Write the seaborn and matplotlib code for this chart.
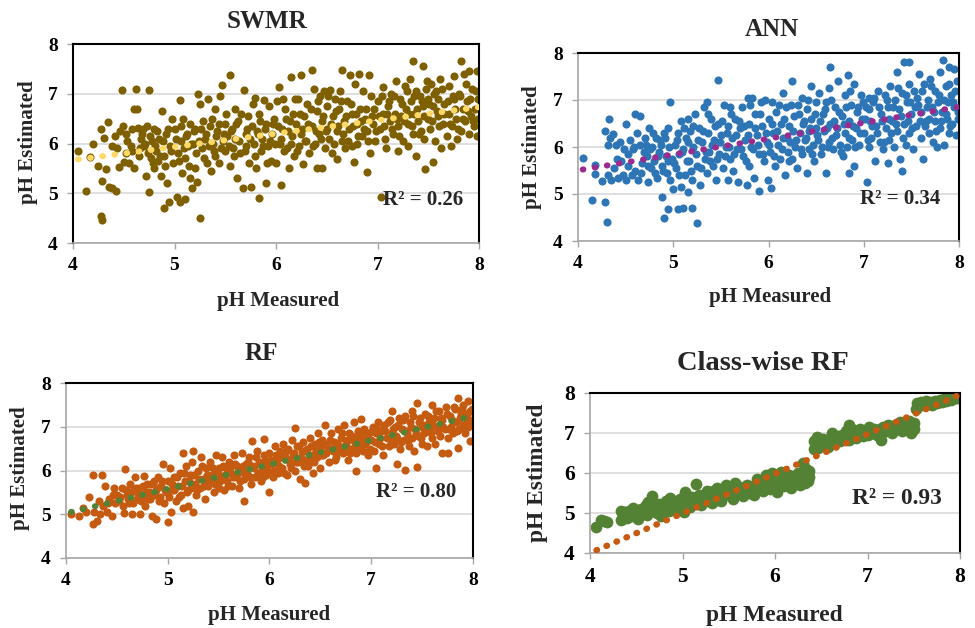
import matplotlib
matplotlib.use("Agg")
import matplotlib.pyplot as plt
import seaborn as sns
import pandas as pd
import numpy as np

# ---------------- data ----------------
titles = ["SWMR", "ANN", "RF", "Class-wise RF"]
r2_labels = ["R² = 0.26", "R² = 0.34", "R² = 0.80", "R² = 0.93"]
ticks = [4, 5, 6, 7, 8]

swmr_points = [
    (4.05,5.85),(4.13,5.05),(4.17,5.72),(4.2,5.98),(4.25,5.55),(4.28,4.55),(4.29,4.47),(4.28,6.3),(4.29,5.25),
    (4.31,6.12),(4.33,5.48),(4.34,6.43),(4.35,5.12),(4.38,5.1),(4.38,5.95),(4.42,5.05),(4.43,5.9),(4.45,5.52),
    (4.46,6.25),(4.48,7.07),(4.49,6.35),(4.5,5.62),(4.52,5.8),(4.53,6.05),
    (4.55,5.6),(4.57,5.95),(4.58,6.3),(4.6,6.7),(4.6,5.5),(4.62,7.1),(4.63,6.7),(4.64,6.32),(4.65,5.75),(4.67,6.1),
    (4.68,6.2),(4.7,5.95),(4.72,5.35),(4.73,6.35),(4.75,7.07),(4.75,5.03),(4.77,5.7),(4.78,6.05),(4.8,6.3),(4.8,5.5),
    (4.82,5.85),(4.84,5.65),(4.85,6.1),(4.87,5.35),(4.88,6.65),(4.9,4.7),(4.9,5.75),(4.92,6.2),(4.93,5.2),(4.95,4.82),
    (4.96,5.95),(4.98,6.5),(4.99,5.6),
    (5.0,6.3),(5.02,4.92),(5.03,5.8),(5.05,4.82),(5.05,6.88),(5.06,6.05),(5.07,5.4),(5.08,6.5),(5.1,4.88),(5.1,5.7),
    (5.12,6.2),(5.13,5.95),(5.15,5.3),(5.15,6.4),(5.17,5.1),(5.18,6.0),(5.2,5.5),(5.2,6.3),(5.22,5.22),(5.23,7.0),
    (5.25,4.5),(5.25,6.8),(5.27,5.9),(5.28,6.45),(5.3,6.1),(5.32,5.6),(5.33,6.9),(5.35,6.35),(5.36,5.45),(5.38,6.0),
    (5.4,6.7),(5.4,5.75),(5.42,6.25),(5.44,5.6),(5.45,6.95),(5.47,7.18),(5.48,6.05),(5.5,6.4),(5.5,5.85),
    (5.52,6.15),(5.55,7.37),(5.55,5.55),(5.57,6.3),(5.58,5.9),(5.6,6.7),(5.6,6.1),(5.62,5.3),(5.63,6.45),(5.65,5.8),
    (5.67,5.1),(5.68,7.07),(5.7,6.2),(5.7,5.95),(5.72,6.55),(5.73,5.6),(5.75,5.12),(5.76,6.35),(5.78,6.0),(5.79,6.92),
    (5.8,5.5),(5.81,6.25),(5.83,4.9),(5.83,6.6),(5.85,5.85),(5.86,6.1),(5.88,6.88),(5.9,5.2),(5.9,6.4),(5.92,5.95),
    (5.93,6.75),(5.95,5.65),(5.96,6.2),(5.98,6.5),(5.99,6.0),
    (6.0,5.6),(6.02,6.35),(6.03,7.13),(6.05,5.17),(6.05,6.1),(6.07,6.9),(6.08,5.85),(6.1,6.5),(6.12,6.25),(6.13,5.5),
    (6.15,6.0),(6.15,7.33),(6.17,6.6),(6.18,5.75),(6.2,6.4),(6.22,6.9),(6.23,5.95),(6.25,7.38),(6.25,6.2),(6.27,5.58),
    (6.28,6.55),(6.3,6.05),(6.31,6.8),(6.33,5.8),(6.35,7.47),(6.35,6.35),(6.37,7.1),(6.38,6.0),(6.4,5.5),(6.4,6.65),
    (6.42,6.2),(6.43,6.95),(6.45,5.5),(6.45,6.45),(6.47,7.05),(6.48,5.9),(6.5,6.3),(6.5,6.75),
    (6.52,6.1),(6.53,7.08),(6.55,5.8),(6.56,6.55),(6.58,6.9),(6.6,6.25),(6.6,5.68),(6.62,6.7),(6.63,7.05),(6.65,7.47),
    (6.65,6.05),(6.67,6.45),(6.68,5.9),(6.7,6.85),(6.72,6.3),(6.73,7.38),(6.75,6.6),(6.75,5.95),(6.77,5.62),(6.78,7.2),
    (6.8,6.4),(6.8,6.0),(6.82,7.4),(6.83,6.7),(6.85,6.15),(6.86,7.05),(6.88,6.5),(6.9,5.43),(6.9,6.25),(6.92,7.38),
    (6.93,5.8),(6.95,6.55),(6.97,6.7),(6.98,6.05),
    (7.0,6.85),(7.02,6.3),(7.03,4.93),(7.05,7.13),(7.05,6.6),(7.07,6.1),(7.08,5.9),(7.1,6.75),(7.12,6.45),(7.13,7.0),
    (7.15,6.2),(7.17,6.6),(7.18,7.25),(7.2,6.35),(7.2,5.85),(7.22,6.9),(7.23,6.55),(7.25,6.05),(7.27,7.15),(7.28,6.7),
    (7.3,6.4),(7.3,5.95),(7.32,7.3),(7.33,6.85),(7.35,7.65),(7.35,6.2),(7.36,6.6),(7.38,7.05),(7.38,5.75),(7.4,6.45),
    (7.42,6.95),(7.43,6.25),(7.45,7.55),(7.45,6.75),(7.46,6.1),(7.47,5.48),(7.48,7.1),(7.5,6.5),(7.5,6.9),
    (7.52,6.3),(7.53,7.2),(7.55,5.62),(7.55,6.75),(7.57,6.05),(7.58,7.05),(7.6,6.55),(7.6,6.9),(7.62,7.3),(7.63,5.9),
    (7.65,6.4),(7.66,6.8),(7.68,6.15),(7.7,7.15),(7.7,6.6),(7.72,5.95),(7.73,6.35),(7.75,7.35),(7.75,6.9),(7.77,6.5),
    (7.78,6.1),(7.8,7.0),(7.82,7.65),(7.82,6.25),(7.84,6.7),(7.85,7.4),(7.86,6.45),(7.88,6.85),(7.9,7.45),(7.9,6.2),
    (7.92,6.55),(7.93,7.1),(7.95,6.35),(7.96,6.7),(7.98,7.45),(7.98,6.15),(7.99,6.9),
]
swmr_core = [
    (4.41,6.15),(4.52,6.2),(4.58,5.85),(4.66,5.9),(4.69,6.3),
    (4.71,6.0),(4.74,5.8),(4.76,6.15),(4.79,5.6),(4.81,5.95),(4.83,6.25),(4.86,5.75),(4.89,6.05),(4.91,5.55),(4.94,6.3),(4.97,5.85),
    (5.01,6.1),(5.04,5.65),(5.06,6.35),(5.09,5.9),(5.11,6.15),(5.14,5.55),(5.16,6.0),(5.19,6.25),(5.21,5.8),(5.24,6.05),
    (5.26,6.3),(5.29,5.7),(5.31,6.2),(5.34,5.95),(5.37,6.5),(5.39,5.85),(5.41,6.15),(5.44,6.4),(5.46,5.9),(5.49,6.2),
    (5.51,6.6),(5.54,5.95),(5.56,6.25),(5.59,5.75),(5.61,6.4),(5.64,6.05),(5.66,6.6),(5.69,5.85),(5.71,6.3),(5.74,6.1),
    (5.77,6.8),(5.79,5.75),(5.82,6.2),(5.84,6.45),(5.87,5.95),(5.89,6.3),(5.91,5.6),(5.94,6.05),(5.97,6.4),
    (6.01,6.85),(6.04,6.0),(6.06,6.3),(6.09,6.7),(6.11,5.9),(6.14,6.45),(6.16,6.15),(6.19,6.9),(6.21,5.85),(6.24,6.6),
    (6.26,6.3),(6.29,6.05),(6.32,6.4),(6.34,6.7),(6.36,5.95),(6.39,6.25),(6.41,6.85),(6.44,6.1),(6.46,6.55),(6.49,6.25),
    (6.51,6.95),(6.54,6.4),(6.57,6.0),(6.59,6.65),(6.61,6.35),(6.64,6.85),(6.66,6.2),(6.69,6.55),(6.71,6.05),(6.74,6.8),
    (6.76,6.35),(6.79,6.6),(6.81,6.15),(6.84,6.45),(6.87,6.3),(6.89,6.7),(6.91,6.05),(6.94,6.95),(6.96,6.4),(6.99,6.25),
    (7.01,6.55),(7.04,6.95),(7.06,6.35),(7.09,6.6),(7.11,6.85),(7.14,6.3),(7.16,6.95),(7.19,6.5),(7.21,6.15),(7.24,6.8),
    (7.26,6.45),(7.29,7.05),(7.31,6.6),(7.34,6.35),(7.36,6.95),(7.39,6.7),(7.41,6.2),(7.44,6.85),(7.46,6.55),(7.49,7.25),
    (7.51,6.8),(7.54,6.45),(7.56,7.0),(7.59,6.65),(7.61,6.35),(7.64,7.1),(7.66,6.6),(7.69,6.85),(7.71,6.4),(7.74,6.95),
    (7.76,6.7),(7.79,6.3),(7.81,6.95),(7.84,6.5),(7.87,7.2),(7.89,6.65),(7.91,6.9),(7.94,6.45),(7.97,7.05),(7.99,6.5),
]

ann_points = [
    (4.05,5.77),(4.15,4.87),(4.18,5.62),(4.18,5.42),(4.25,5.27),(4.28,6.35),(4.28,4.82),(4.3,4.4),(4.31,5.4),
    (4.32,6.05),(4.33,6.6),(4.34,6.2),(4.35,5.3),(4.37,6.28),(4.38,5.55),(4.4,6.05),(4.42,5.35),(4.44,6.1),(4.45,5.7),
    (4.47,5.4),(4.48,5.95),(4.5,6.5),(4.5,5.3),
    (4.52,5.85),(4.55,6.15),(4.57,5.4),(4.58,5.95),(4.6,6.7),(4.6,5.5),(4.62,6.3),(4.63,5.3),(4.65,6.65),(4.65,6.05),
    (4.67,5.65),(4.7,6.2),(4.72,5.8),(4.73,5.25),(4.75,6.4),(4.77,5.55),(4.78,6.0),(4.8,5.7),(4.82,6.2),(4.83,5.35),
    (4.85,5.9),(4.86,6.15),(4.88,4.93),(4.88,5.6),(4.9,4.48),(4.9,6.3),(4.92,5.8),(4.93,5.45),(4.95,4.68),(4.95,6.4),
    (4.97,6.95),(4.97,5.3),(4.99,5.75),
    (5.0,5.1),(5.02,6.05),(5.03,5.55),(5.05,4.68),(5.05,6.3),(5.06,5.85),(5.08,5.15),(5.08,6.55),(5.1,4.7),(5.1,5.95),
    (5.12,5.4),(5.13,6.2),(5.15,6.6),(5.15,5.05),(5.17,5.7),(5.18,6.35),(5.2,4.7),(5.2,5.3),(5.21,6.0),(5.23,6.7),
    (5.25,4.38),(5.25,5.6),(5.27,6.4),(5.28,5.2),(5.3,6.1),(5.32,6.85),(5.33,5.75),(5.35,6.95),(5.35,5.45),(5.37,6.3),
    (5.38,5.9),(5.4,6.6),(5.42,5.6),(5.43,6.15),(5.45,5.3),(5.47,7.42),(5.47,6.5),(5.48,5.85),(5.5,6.25),
    (5.52,5.55),(5.53,6.9),(5.55,6.0),(5.57,5.3),(5.58,6.45),(5.6,6.85),(5.6,5.75),(5.62,6.2),(5.63,5.5),(5.65,6.6),
    (5.67,5.95),(5.68,5.25),(5.7,6.4),(5.72,6.85),(5.73,5.8),(5.75,6.15),(5.77,5.2),(5.78,7.05),(5.8,6.5),(5.8,5.6),
    (5.82,6.0),(5.83,7.05),(5.85,5.35),(5.86,6.7),(5.88,6.25),(5.9,5.07),(5.9,5.85),(5.92,6.95),(5.93,6.45),(5.95,5.7),
    (5.96,7.0),(5.98,6.1),(5.99,5.3),
    (6.0,6.6),(6.02,5.9),(6.03,5.13),(6.04,6.95),(6.05,6.3),(6.07,5.6),(6.08,6.75),(6.1,6.05),(6.12,5.75),(6.13,6.5),
    (6.15,7.15),(6.15,6.2),(6.17,5.4),(6.18,6.85),(6.2,5.9),(6.22,6.45),(6.23,6.1),(6.25,7.4),(6.25,5.75),(6.27,6.65),
    (6.28,6.0),(6.3,5.55),(6.31,6.9),(6.33,6.3),(6.35,7.05),(6.35,5.85),(6.37,6.55),(6.38,6.15),(6.4,5.45),(6.4,6.8),
    (6.42,6.35),(6.43,5.95),(6.45,7.3),(6.45,6.6),(6.47,6.05),(6.48,5.7),(6.5,6.95),(6.5,6.4),
    (6.52,6.15),(6.53,7.15),(6.55,5.85),(6.57,6.7),(6.58,6.35),(6.6,5.45),(6.6,6.95),(6.62,6.0),(6.63,7.25),(6.65,7.7),
    (6.65,6.5),(6.67,6.2),(6.68,5.95),(6.7,6.85),(6.72,6.4),(6.73,7.4),(6.75,6.05),(6.77,6.65),(6.78,5.8),(6.8,7.1),
    (6.8,6.3),(6.82,6.0),(6.83,7.53),(6.85,5.45),(6.85,6.55),(6.87,6.9),(6.88,6.15),(6.9,7.35),(6.9,5.6),(6.92,6.4),
    (6.93,6.75),(6.95,6.05),(6.97,7.1),(6.98,6.6),
    (7.0,6.3),(7.02,6.85),(7.03,5.25),(7.05,6.0),(7.05,7.05),(7.07,6.55),(7.08,6.2),(7.1,6.95),(7.12,5.7),(7.13,6.45),
    (7.15,7.2),(7.17,6.1),(7.18,6.7),(7.2,5.95),(7.22,7.1),(7.23,6.4),(7.25,6.85),(7.25,5.65),(7.27,6.15),(7.28,7.3),
    (7.3,6.55),(7.32,6.0),(7.33,7.0),(7.35,7.6),(7.35,6.35),(7.37,6.8),(7.38,5.75),(7.4,5.5),(7.4,7.15),(7.42,7.8),
    (7.42,6.5),(7.44,6.05),(7.45,6.95),(7.47,7.8),(7.47,6.3),(7.48,7.35),(7.5,6.7),
    (7.52,5.95),(7.53,7.2),(7.55,6.45),(7.57,6.9),(7.58,7.55),(7.6,6.2),(7.6,6.75),(7.62,5.75),(7.63,7.35),(7.65,6.55),
    (7.67,7.0),(7.68,6.3),(7.7,7.45),(7.72,6.85),(7.73,6.1),(7.75,7.2),(7.75,6.55),(7.77,6.0),(7.78,6.95),(7.8,7.6),
    (7.8,6.4),(7.82,6.75),(7.83,7.85),(7.84,6.05),(7.86,7.3),(7.87,6.6),(7.88,6.95),(7.9,7.7),(7.9,6.3),(7.92,7.1),
    (7.93,6.5),(7.95,7.65),(7.95,6.85),(7.97,6.25),(7.98,7.4),(7.99,6.6),
]
ann_core = [
    (4.41,5.75),(4.53,5.6),(4.59,6.0),(4.66,5.45),(4.69,5.9),
    (4.71,6.05),(4.74,5.6),(4.76,5.95),(4.79,6.3),(4.81,5.45),(4.84,5.8),(4.87,6.05),(4.89,5.5),(4.91,6.2),(4.94,5.7),(4.96,6.0),
    (5.01,5.65),(5.04,6.15),(5.06,5.4),(5.09,5.9),(5.11,6.4),(5.14,5.7),(5.16,6.1),(5.19,5.5),(5.21,6.45),(5.24,5.85),
    (5.26,6.15),(5.29,5.55),(5.31,6.35),(5.34,5.9),(5.36,6.7),(5.39,5.7),(5.41,6.05),(5.44,6.45),(5.46,5.75),(5.49,6.1),
    (5.51,6.55),(5.54,5.8),(5.56,6.3),(5.59,6.0),(5.61,6.7),(5.64,5.85),(5.66,6.25),(5.69,6.55),(5.71,5.95),(5.74,6.45),
    (5.76,5.7),(5.79,6.25),(5.81,6.9),(5.84,5.95),(5.86,6.4),(5.89,6.05),(5.91,6.7),(5.94,5.85),(5.97,6.3),
    (6.01,6.05),(6.04,6.5),(6.06,5.8),(6.09,6.35),(6.11,6.9),(6.14,5.95),(6.16,6.6),(6.19,6.2),(6.21,5.7),(6.24,6.9),
    (6.26,6.35),(6.29,6.15),(6.32,6.7),(6.34,5.95),(6.36,6.5),(6.39,6.2),(6.41,7.0),(6.44,6.4),(6.46,5.85),(6.49,6.7),
    (6.51,6.25),(6.54,6.55),(6.56,6.0),(6.59,6.8),(6.61,6.4),(6.64,6.1),(6.66,7.0),(6.69,6.55),(6.71,6.25),(6.74,6.75),
    (6.76,5.9),(6.79,6.5),(6.81,6.85),(6.84,6.2),(6.86,7.2),(6.89,6.45),(6.91,6.0),(6.94,6.85),(6.96,6.3),(6.99,6.95),
    (7.01,6.6),(7.04,6.15),(7.06,6.8),(7.09,6.45),(7.11,7.05),(7.14,6.3),(7.16,6.85),(7.19,6.55),(7.21,6.1),(7.24,7.0),
    (7.26,6.6),(7.29,6.3),(7.31,6.85),(7.34,6.5),(7.36,7.25),(7.39,6.65),(7.41,6.2),(7.44,7.1),(7.46,6.55),(7.49,6.95),
    (7.51,6.4),(7.54,6.85),(7.56,7.05),(7.59,6.55),(7.61,7.2),(7.64,6.45),(7.66,6.85),(7.69,6.6),(7.71,7.3),(7.74,6.75),
    (7.76,6.35),(7.79,7.1),(7.81,6.55),(7.84,7.0),(7.86,6.7),(7.89,7.35),(7.91,6.45),(7.94,6.95),(7.96,7.2),(7.99,6.75),
]

rf_points = [
    (4.05,5.0),(4.13,4.95),(4.17,5.15),(4.2,5.05),(4.23,5.4),(4.27,5.9),(4.27,4.78),(4.28,5.05),(4.3,4.85),(4.32,5.3),
    (4.33,5.0),(4.35,5.9),(4.36,5.2),(4.38,5.65),(4.4,5.05),(4.42,5.35),(4.45,4.95),(4.47,5.6),(4.48,5.25),(4.5,5.45),
    (4.52,5.3),(4.55,5.6),(4.57,5.02),(4.58,6.03),(4.6,5.45),(4.62,5.25),(4.63,5.7),(4.65,5.0),(4.67,5.55),(4.68,5.85),
    (4.7,5.35),(4.72,5.6),(4.73,5.0),(4.75,5.45),(4.77,5.88),(4.78,5.2),(4.8,5.7),(4.82,5.5),(4.83,5.35),(4.85,4.97),
    (4.86,5.75),(4.88,4.9),(4.88,5.55),(4.9,5.85),(4.92,5.4),(4.93,5.65),(4.95,6.15),(4.96,5.25),(4.98,5.5),(5.0,4.82),
    (5.0,5.75),(5.02,6.05),(5.03,5.05),(5.04,5.55),(5.06,5.85),(5.08,5.3),(5.1,5.65),(5.12,5.95),(5.13,5.45),(5.15,6.4),
    (5.15,5.15),(5.17,5.75),(5.18,6.1),(5.2,5.2),(5.2,5.55),(5.22,5.9),(5.24,6.2),(5.25,6.45),(5.25,5.05),(5.27,5.7),
    (5.28,5.45),(5.3,6.0),(5.32,5.6),(5.33,6.3),(5.35,5.8),(5.37,5.35),(5.38,6.05),(5.4,5.65),(5.42,6.2),(5.43,5.9),
    (5.45,5.5),(5.47,6.35),(5.48,5.75),(5.5,6.05),(5.5,5.6),
    (5.52,5.85),(5.53,6.3),(5.55,5.55),(5.57,6.05),(5.58,5.75),(5.6,6.2),(5.62,5.95),(5.63,5.65),(5.65,6.35),(5.67,5.85),
    (5.68,6.1),(5.7,5.6),(5.72,6.0),(5.73,6.4),(5.75,5.3),(5.75,5.8),(5.77,6.15),(5.78,5.95),(5.8,6.3),(5.82,5.7),
    (5.83,6.68),(5.85,6.05),(5.86,5.85),(5.88,6.45),(5.9,6.2),(5.92,5.75),(5.93,6.0),(5.95,6.72),(5.95,6.35),(5.97,5.9),
    (5.98,6.1),(6.0,5.5),
    (6.0,6.4),(6.02,6.15),(6.03,5.85),(6.05,6.55),(6.07,6.25),(6.08,5.95),(6.1,6.45),(6.12,6.05),(6.13,6.6),(6.15,6.3),
    (6.17,5.9),(6.18,6.5),(6.2,6.15),(6.22,6.7),(6.23,6.35),(6.25,6.97),(6.25,6.0),(6.27,6.55),(6.28,6.2),(6.3,5.8),
    (6.32,6.45),(6.33,6.65),(6.35,5.72),(6.35,6.25),(6.37,6.5),(6.38,6.1),(6.4,6.75),(6.42,6.35),(6.43,5.95),(6.45,6.6),
    (6.47,6.3),(6.48,6.85),(6.5,6.5),(6.5,6.05),
    (6.52,6.7),(6.53,6.35),(6.55,7.05),(6.57,6.55),(6.58,6.2),(6.6,6.85),(6.62,6.45),(6.63,6.65),(6.65,6.3),(6.67,6.95),
    (6.68,6.55),(6.7,6.75),(6.72,6.4),(6.73,7.05),(6.75,6.6),(6.77,6.25),(6.78,6.85),(6.8,6.5),(6.82,6.7),(6.83,7.12),
    (6.85,6.0),(6.85,6.4),(6.87,6.9),(6.88,6.6),(6.9,7.18),(6.9,6.75),(6.92,6.45),(6.93,6.95),(6.95,6.65),(6.97,6.35),
    (6.98,6.85),
    (7.0,6.7),(7.02,7.0),(7.03,6.45),(7.05,6.05),(7.05,6.85),(7.07,7.1),(7.08,6.6),(7.1,6.9),(7.12,6.35),(7.13,7.05),
    (7.15,6.75),(7.17,6.55),(7.18,7.15),(7.2,7.35),(7.2,6.85),(7.22,6.6),(7.23,7.0),(7.25,6.15),(7.25,6.75),(7.27,7.2),
    (7.28,6.5),(7.3,6.95),(7.32,6.7),(7.33,6.02),(7.33,7.25),(7.35,6.85),(7.37,6.55),(7.38,7.1),(7.4,6.75),(7.4,7.35),
    (7.42,6.45),(7.43,6.95),(7.45,6.07),(7.45,7.55),(7.46,6.8),(7.48,7.2),(7.5,6.6),(7.5,7.0),
    (7.52,6.85),(7.53,7.3),(7.55,6.55),(7.57,7.1),(7.58,6.95),(7.6,7.5),(7.6,6.75),(7.62,7.2),(7.63,6.6),(7.65,7.0),
    (7.67,7.35),(7.68,6.8),(7.7,6.4),(7.7,7.15),(7.72,6.95),(7.73,7.45),(7.75,6.4),(7.75,6.75),(7.77,7.25),(7.78,7.0),
    (7.8,6.85),(7.82,7.4),(7.83,7.1),(7.85,6.52),(7.85,7.65),(7.86,6.95),(7.88,7.3),(7.9,7.05),(7.9,7.5),(7.92,6.85),
    (7.93,7.2),(7.95,7.6),(7.95,7.0),(7.97,6.67),(7.97,7.35),(7.99,7.15),
]
rf_core = [
    (4.41,5.25),(4.46,5.45),(4.53,5.4),(4.56,5.2),(4.59,5.55),(4.61,5.35),(4.64,5.5),(4.66,5.25),(4.69,5.6),(4.71,5.45),
    (4.74,5.3),(4.76,5.65),(4.79,5.5),(4.81,5.35),(4.84,5.7),(4.87,5.45),(4.89,5.6),(4.91,5.3),(4.94,5.75),(4.97,5.55),
    (5.01,5.4),(5.04,5.7),(5.06,5.55),(5.09,5.85),(5.11,5.4),(5.14,5.65),(5.16,5.95),(5.19,5.5),(5.21,5.75),(5.23,5.6),
    (5.26,5.9),(5.29,5.55),(5.31,5.8),(5.34,6.1),(5.36,5.65),(5.39,5.9),(5.41,5.75),(5.44,6.05),(5.46,5.7),(5.49,5.95),
    (5.51,5.75),(5.54,6.1),(5.56,5.9),(5.59,5.65),(5.61,6.05),(5.64,5.85),(5.66,6.15),(5.69,5.95),(5.71,5.75),(5.74,6.1),
    (5.76,5.95),(5.79,6.2),(5.81,5.85),(5.84,6.1),(5.87,6.3),(5.89,5.95),(5.91,6.15),(5.94,5.85),(5.96,6.25),(5.99,6.0),
    (6.01,6.25),(6.04,6.0),(6.06,6.35),(6.09,6.1),(6.11,6.3),(6.14,5.95),(6.16,6.45),(6.19,6.25),(6.21,6.05),(6.24,6.4),
    (6.26,6.2),(6.29,6.55),(6.31,6.3),(6.34,6.1),(6.36,6.45),(6.39,6.25),(6.41,6.55),(6.44,6.2),(6.46,6.45),(6.49,6.65),
    (6.51,6.35),(6.54,6.6),(6.56,6.4),(6.59,6.7),(6.61,6.5),(6.64,6.25),(6.66,6.6),(6.69,6.45),(6.71,6.85),(6.74,6.5),
    (6.76,6.7),(6.79,6.4),(6.81,6.8),(6.84,6.55),(6.86,6.75),(6.89,6.5),(6.91,6.9),(6.94,6.6),(6.96,6.8),(6.99,6.5),
    (7.01,6.9),(7.04,6.65),(7.06,6.95),(7.09,6.75),(7.11,6.55),(7.14,6.9),(7.16,7.1),(7.19,6.7),(7.21,6.95),(7.24,6.8),
    (7.26,7.05),(7.29,6.65),(7.31,7.15),(7.34,6.9),(7.36,6.7),(7.39,7.0),(7.41,7.25),(7.44,6.85),(7.47,7.1),(7.49,6.75),
    (7.51,7.05),(7.54,6.9),(7.56,7.25),(7.59,6.85),(7.61,7.05),(7.64,7.35),(7.66,6.9),(7.69,7.2),(7.71,7.0),(7.74,7.3),
    (7.76,6.95),(7.79,7.15),(7.81,7.45),(7.84,6.9),(7.87,7.2),(7.89,7.4),(7.91,7.0),(7.94,7.3),(7.96,7.1),(7.99,7.4),
]

classwise_points = [
    (4.07,4.65),(4.12,4.82),(4.15,4.8),(4.18,4.77),
    (4.33,5.05),(4.33,4.83),(4.36,4.95),(4.4,4.88),(4.42,5.05),(4.45,4.92),(4.47,5.12),(4.5,4.98),(4.52,4.85),
    (4.55,5.1),(4.57,5.02),(4.6,5.2),(4.62,4.95),(4.63,5.28),(4.65,5.08),(4.67,5.42),(4.7,5.15),(4.72,5.0),(4.75,5.22),
    (4.77,4.92),(4.8,5.12),(4.82,5.3),(4.85,5.05),(4.87,5.38),(4.9,5.18),(4.92,5.28),(4.95,5.12),(4.97,5.35),(5.0,5.2),
    (5.02,5.02),(5.03,5.52),(5.05,5.3),(5.08,5.15),(5.1,5.4),(5.12,5.25),(5.15,5.72),(5.17,5.35),(5.2,5.2),(5.22,5.45),
    (5.25,5.3),(5.27,5.55),(5.3,5.38),(5.32,5.25),(5.35,5.5),(5.37,5.62),(5.4,5.4),(5.42,5.3),(5.45,5.55),(5.47,5.7),
    (5.5,5.45),(5.52,5.6),(5.55,5.35),(5.57,5.75),(5.6,5.5),(5.62,5.65),(5.65,5.42),(5.67,5.58),(5.7,5.7),(5.72,5.5),
    (5.75,5.62),(5.77,5.45),(5.8,5.85),(5.82,5.6),(5.85,5.7),(5.87,5.55),(5.9,5.95),(5.92,5.75),(5.95,5.6),(5.97,6.0),
    (6.0,5.72),(6.02,5.52),(6.05,5.85),(6.07,6.02),(6.1,5.68),(6.12,5.8),(6.15,5.95),(6.17,5.62),(6.2,5.85),(6.22,5.72),
    (6.25,6.0),(6.27,5.7),(6.3,5.88),(6.3,6.25),(6.32,5.75),(6.33,6.1),(6.35,5.95),(6.36,5.8),(6.37,6.05),
    (6.42,6.6),(6.42,6.8),(6.44,6.7),(6.45,6.9),(6.46,6.62),(6.48,6.78),(6.5,6.7),(6.52,6.85),(6.55,6.75),(6.57,6.65),
    (6.6,6.85),(6.62,7.0),(6.65,6.78),(6.67,6.92),(6.7,6.8),(6.72,6.95),(6.75,6.85),(6.77,7.05),(6.8,7.2),(6.8,6.82),
    (6.83,6.95),(6.85,7.08),(6.88,6.88),(6.9,7.0),(6.92,7.1),(6.95,6.92),(6.97,7.05),(7.0,6.95),(7.02,7.15),(7.05,7.0),
    (7.07,7.1),(7.1,6.95),(7.12,7.08),(7.15,6.82),(7.17,7.15),(7.2,7.05),(7.22,7.2),(7.25,7.1),(7.27,7.0),(7.3,7.2),
    (7.32,7.1),(7.35,7.28),(7.37,7.05),(7.4,7.2),(7.42,7.1),(7.45,7.3),(7.47,7.0),(7.48,7.2),(7.5,7.1),(7.5,7.25),
    (7.52,7.6),(7.53,7.75),(7.55,7.68),(7.58,7.78),(7.6,7.7),(7.63,7.8),(7.65,7.72),(7.68,7.78),(7.7,7.7),(7.73,7.8),
    (7.75,7.75),(7.78,7.82),(7.8,7.78),(7.83,7.85),(7.85,7.8),(7.88,7.85),(7.9,7.82),(7.93,7.9),(7.95,7.88),(7.98,7.95),
    (8.0,7.92),
]
classwise_core = [
    (4.38,5.02),(4.43,4.98),(4.48,5.05),(4.53,5.0),(4.58,5.12),(4.68,5.22),(4.73,5.1),(4.78,5.2),(4.83,5.15),(4.88,5.25),
    (4.93,5.2),(4.98,5.28),(5.04,5.22),(5.13,5.35),(5.18,5.45),(5.23,5.38),(5.28,5.45),(5.33,5.55),(5.38,5.48),(5.43,5.45),
    (5.48,5.58),(5.53,5.5),(5.58,5.6),(5.63,5.55),(5.68,5.65),(5.73,5.6),(5.78,5.7),(5.83,5.72),(5.88,5.78),(5.93,5.68),
    (5.98,5.8),(6.03,5.75),(6.08,5.82),(6.13,5.72),(6.18,5.88),(6.23,5.8),(6.28,5.95),(6.33,5.85),(6.37,5.9),
    (6.53,6.75),(6.63,6.85),(6.73,6.88),(6.83,6.9),(6.93,6.98),(7.03,7.02),(7.13,7.1),(7.23,7.12),(7.33,7.15),(7.43,7.18),
    (7.48,7.08),(7.57,7.72),(7.67,7.75),(7.77,7.78),(7.87,7.82),(7.97,7.88),
]

# linear trendlines (slope, intercept, x-start, x-end)
trend_slopes = [0.266, 0.337, 0.556, 0.99]
trend_intercepts = [4.603, 4.156, 2.80, 0.04]
trend_x_start = [4.05, 4.05, 4.05, 4.07]
trend_x_end = [8.0, 8.0, 7.92, 8.0]

# ---------------- styling ----------------
point_colors = ["#7F6000", "#2E75B6", "#C55A11", "#548235"]
trend_colors = ["#FFD966", "#9B2C8F", "#548235", "#C55A11"]
point_sizes = [34, 34, 34, 72]

sns.set_theme(style="white")
plt.rcParams["font.family"] = ["Liberation Serif", "DejaVu Serif"]
plt.rcParams["font.weight"] = "bold"

W, H = 975, 628
fig = plt.figure(figsize=(W / 100, H / 100), dpi=100)

# pixel boxes: left, right, top, bottom
boxes = [(73, 479, 44, 243), (578, 959, 53, 241), (66, 473, 383, 558), (590, 960, 393, 553)]
title_pos = [(267, 22), (772, 30), (261, 353), (763, 363)]
xlabel_pos = [(278, 301), (770, 297), (269, 615), (774, 615)]
ylabel_pos = [(28, 142), (532, 147), (20, 468), (538, 473)]
r2_pos = [(7.05, 4.86), (6.96, 4.89), (7.05, 5.51), (6.83, 5.35)]
title_size = [18, 18, 18, 20.5]
label_size = [15, 15, 15, 16.8]
tick_size = [14, 14, 14, 15.5]
r2_size = [15, 15, 15, 16.8]

all_points = [swmr_points + swmr_core, ann_points + ann_core,
              rf_points + rf_core, classwise_points + classwise_core]

for i in range(4):
    l, r, t, b = boxes[i]
    ax = fig.add_axes([l / W, 1 - b / H, (r - l) / W, (b - t) / H])
    df = pd.DataFrame(all_points[i], columns=["measured", "estimated"])
    ax.yaxis.grid(True, color="#D9D9D9", linewidth=1.2, zorder=0)
    ax.set_axisbelow(True)
    sns.scatterplot(data=df, x="measured", y="estimated", ax=ax, color=point_colors[i],
                    s=point_sizes[i], linewidth=0, alpha=1, zorder=2, legend=False)
    tx = np.array([trend_x_start[i], trend_x_end[i]])
    ty = trend_slopes[i] * tx + trend_intercepts[i]
    if i == 3:
        ax.plot(tx, ty, color=trend_colors[i], linewidth=4.6, linestyle=(0, (0.1, 1.6)),
                dash_capstyle="round", zorder=3)
    else:
        ax.plot(tx, ty, color=trend_colors[i], linewidth=4.4, linestyle=(0, (0.1, 1.9)),
                dash_capstyle="round", zorder=3)
    ax.set_xlim(4, 8)
    ax.set_ylim(4, 8)
    ax.set_xticks(ticks)
    ax.set_yticks(ticks)
    ax.set_xticklabels([str(v) for v in ticks], fontsize=tick_size[i], fontweight="bold")
    ax.set_yticklabels([str(v) for v in ticks], fontsize=tick_size[i], fontweight="bold")
    ax.tick_params(axis="both", direction="out", length=4, width=1, color="#A6A6A6",
                   bottom=True, left=True, labelcolor="black")
    ax.tick_params(axis="x", pad=6)
    ax.tick_params(axis="y", pad=7)
    ax.set_xlabel("")
    ax.set_ylabel("")
    for side in ["top", "right"]:
        ax.spines[side].set_color("black")
        ax.spines[side].set_linewidth(1.5)
    ax.spines["bottom"].set_color("#A6A6A6")
    ax.spines["bottom"].set_linewidth(1.2)
    ax.spines["left"].set_color("black" if i == 0 else "#A6A6A6")
    ax.spines["left"].set_linewidth(1.5 if i == 0 else 1.2)
    ax.text(r2_pos[i][0], r2_pos[i][1], r2_labels[i], fontsize=r2_size[i], fontweight="bold",
            ha="left", va="center", zorder=4)

    fig.text(title_pos[i][0] / W, 1 - title_pos[i][1] / H, titles[i], fontsize=title_size[i],
             fontweight="bold", ha="center", va="center")
    fig.text(xlabel_pos[i][0] / W, 1 - xlabel_pos[i][1] / H, "pH Measured", fontsize=label_size[i],
             fontweight="bold", ha="center", va="center")
    fig.text(ylabel_pos[i][0] / W, 1 - ylabel_pos[i][1] / H, "pH Estimated", fontsize=label_size[i],
             fontweight="bold", ha="center", va="center", rotation=90)

fig.savefig("out.png", dpi=100, facecolor="white")
